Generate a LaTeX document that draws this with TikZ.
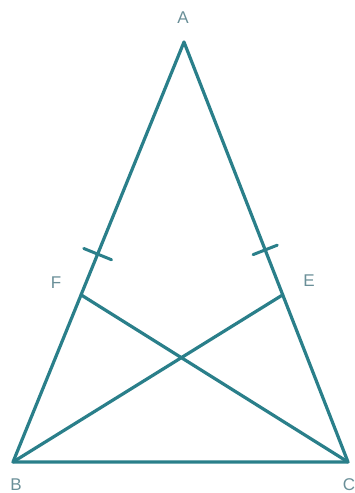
\documentclass[tikz,border=0pt]{standalone}
\usepackage{fontspec}
\setsansfont{Liberation Sans}
\usepackage{xcolor}
\usetikzlibrary{calc}
\definecolor{edgeteal}{HTML}{2A7F8A}
\definecolor{labelgray}{HTML}{6A8F98}

\begin{document}
\begin{tikzpicture}[x=1pt, y=-1pt,
    side/.style={draw=edgeteal, line width=3.2pt, line cap=round, line join=round},
    tick/.style={draw=edgeteal, line width=3pt, line cap=round},
    every node/.style={text=labelgray, font=\sffamily\fontsize{17}{17}\selectfont, inner sep=0pt}]
    \useasboundingbox (0,0) rectangle (354,493);
    \coordinate (A) at (184,42);
    \coordinate (B) at (13,462);
    \coordinate (C) at (348,462);
    \coordinate (F) at ($(A)!0.602!(B)$);
    \coordinate (E) at ($(A)!0.602!(C)$);
    \coordinate (mAB) at ($(A)!0.505!(B)$);
    \coordinate (mAC) at ($(A)!0.495!(C)$);
    % triangle and the two cevians
    \draw[side] (A) -- (B) -- (C) -- cycle;
    \draw[side] (B) -- (E);
    \draw[side] (C) -- (F);
    % equal marks
    \draw[tick] ($(mAB)!15pt!90:(A)$) -- ($(mAB)!15pt!-90:(A)$);
    \draw[tick] ($(mAC)!13pt!90:(A)$) -- ($(mAC)!13pt!-90:(A)$);
    % labels
    \node (lA) at (183,18) {A};
    \node (lB) at (16,485) {B};
    \node (lC) at (349,485) {C};
    \node (lF) at (56,283) {F};
    \node (lE) at (309,281) {E};
\end{tikzpicture}
\end{document}
